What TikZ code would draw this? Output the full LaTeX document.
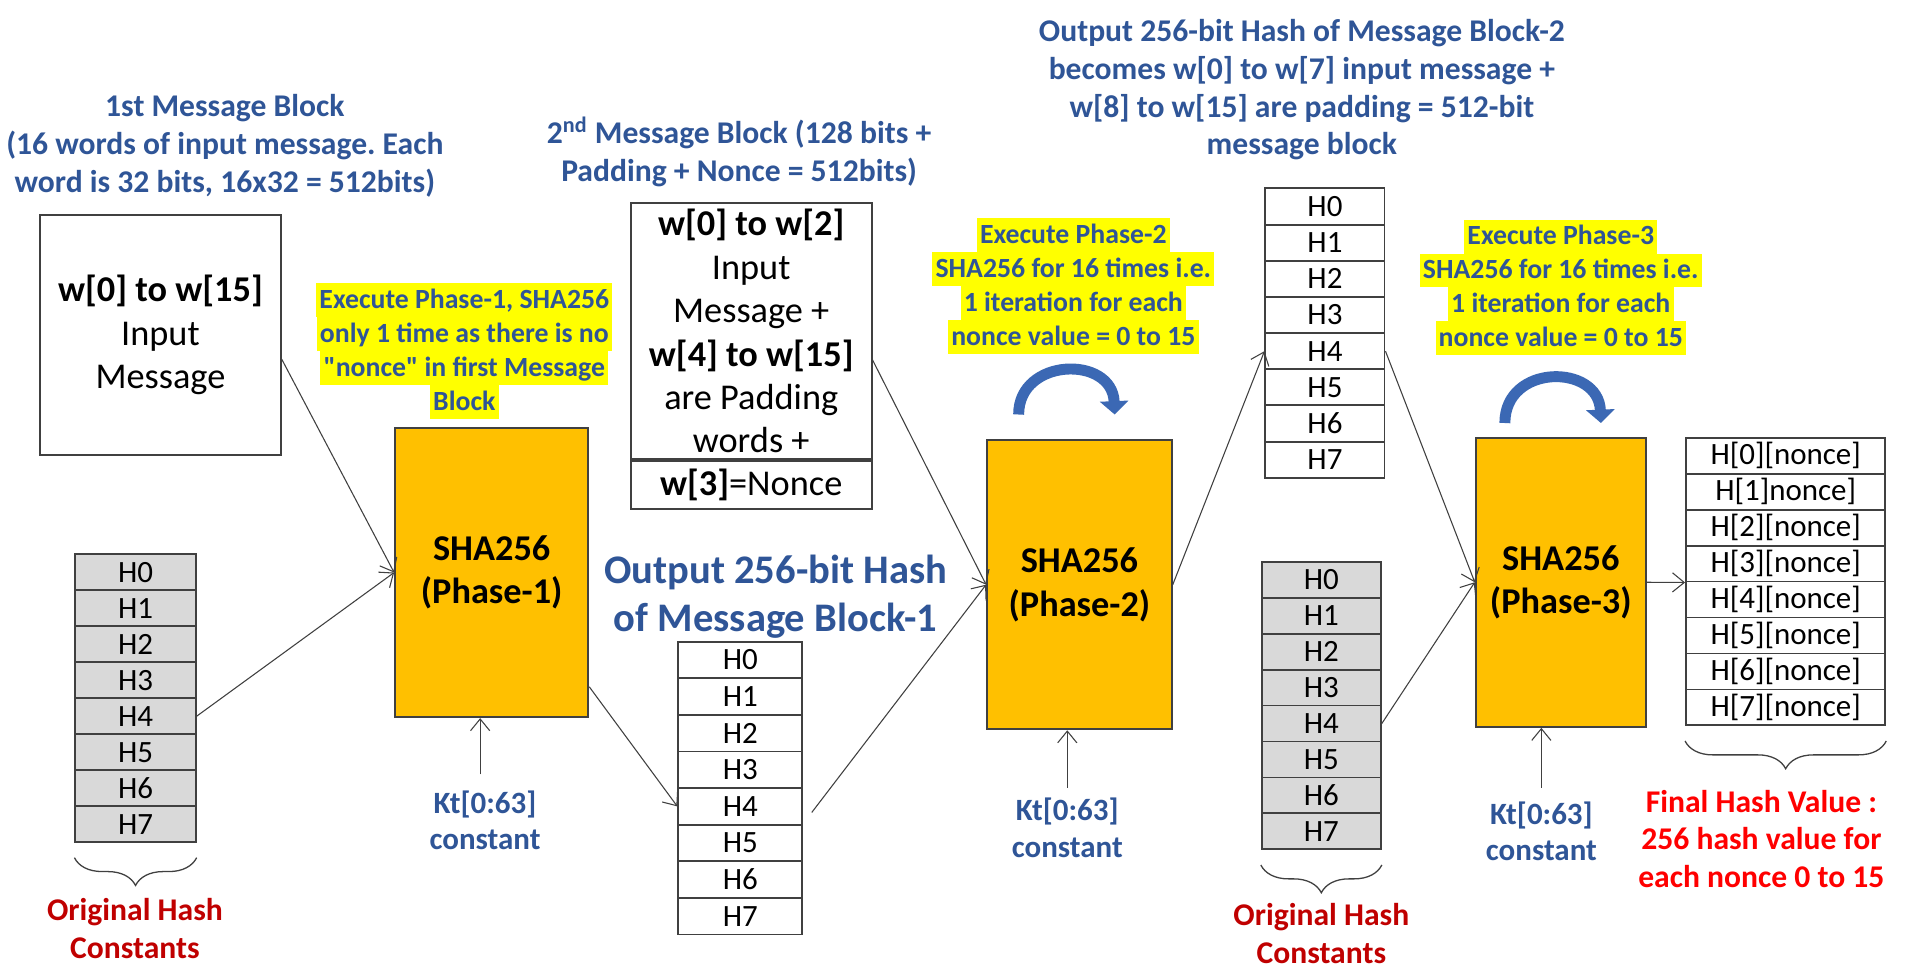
\documentclass[tikz,border=0pt]{standalone}
\usepackage{fontspec}
\setmainfont{Carlito}[Ligatures=TeXOff]
\usepackage{xcolor}
\usetikzlibrary{calc}
\usetikzlibrary{positioning,decorations.pathreplacing}
\usetikzlibrary{arrows.meta}

\definecolor{titleblue}{HTML}{2F5597}
\definecolor{hlyellow}{HTML}{FFFF00}
\definecolor{shaorange}{HTML}{FFC000}
\definecolor{cellgray}{HTML}{D9D9D9}
\definecolor{darkred}{HTML}{C00000}
\definecolor{finalred}{HTML}{FF0000}
\definecolor{linegray}{HTML}{404040}
\definecolor{arcblue}{HTML}{3B68B4}

\newcommand{\yhl}[1]{{\setlength{\fboxsep}{0pt}\colorbox{hlyellow}{\rule[-4pt]{0pt}{15.9pt}\hspace{1.5pt}#1\hspace{1.5pt}}}}
\frenchspacing

\begin{document}
\begin{tikzpicture}[x=0.02cm,y=-0.02cm,>={Straight Barb[length=5.5pt,width=9pt]},
 blocktitle/.style={align=center,text=titleblue,font=\fontsize{14.8}{17.6}\selectfont\bfseries},
 note/.style={align=center,text=titleblue,inner sep=0pt,font=\fontsize{13}{15.9}\selectfont\bfseries},
 msgbox/.style={draw=linegray,line width=0.9pt,align=center,inner sep=0pt,minimum width=3.96cm,font=\fontsize{17}{20.3}\selectfont},
 sha/.style={draw=linegray,line width=0.9pt,fill=shaorange,minimum height=4.76cm,align=center,font=\fontsize{17}{20.4}\selectfont\bfseries},
 cell/.style={draw=linegray,line width=0.9pt,inner sep=0pt,font=\fontsize{14.5}{16}\selectfont},
 kt/.style={align=center,text=titleblue,font=\fontsize{14.5}{17}\selectfont\bfseries},
 flow/.style={->,draw=linegray,line width=0.5pt},
 turnarrow/.style={draw=arcblue,line width=0.18cm,-{Triangle[length=0.22cm,width=0.46cm]}},
 curly/.style={draw=linegray,line width=0.6pt,decorate,decoration={brace,mirror,amplitude=13pt,aspect=0.5}},
 ]
 \fill[white] (0,0) rectangle (1568,797);
 \useasboundingbox (0,0) rectangle (1568,797);

 \node[blocktitle] (title1) at (185,120) {1st Message Block\\(16 words of input message. Each\\word is 32 bits, 16x32 = 512bits)};
 \node[msgbox,minimum height=3.94cm] (msg1) at (132,275.5) {\textbf{w[0] to w[15]}\\Input\\Message};
 \node[note] (note1) at (382,288.5) {\yhl{Execute Phase-1, SHA256}\\\yhl{only 1 time as there is no}\\\yhl{"nonce" in first Message}\\\yhl{Block}};
 \node[sha,minimum width=3.18cm] (sha1) at (404.5,471) {SHA256\\(Phase-1)};

 \foreach \i in {0,...,7}
  \node[cell,fill=cellgray,minimum width=1.98cm,minimum height=0.592cm] (ha\i) at (111.5,470.8+29.6*\i) {H\i};
 \draw[curly] ([shift={(0,12)}]ha7.south west) -- ([shift={(0,12)}]ha7.south east);
 \node[blocktitle,text=darkred] (orig1) at (111,764) {Original Hash\\Constants};

 \node[kt] (kt1) at (399,675) {Kt[0:63]\\constant};
 \coordinate (k1) at (395,637);
 \draw[flow] (k1) -- (k1 |- sha1.south);

 \node[blocktitle] (title2) at (608,125) {2\textsuperscript{nd} Message Block (128 bits +\\Padding + Nonce = 512bits)};
 \node[msgbox,minimum height=4.22cm] (msg2) at (618,272.5) {\textbf{w[0] to w[2]}\\Input\\Message +\\\textbf{w[4] to w[15]}\\are Padding\\words +};
 \node[msgbox,minimum height=0.78cm,below=0pt of msg2] (nonce) {\textbf{w[3]}=Nonce};

 \node[blocktitle,font=\fontsize{19}{22.7}\selectfont\bfseries] (out1) at (638,491) {Output 256-bit Hash\\of Message Block-1};
 \foreach \i in {0,...,7}
  \node[cell,minimum width=2.04cm,minimum height=0.602cm] (hb\i) at (609,543+30.1*\i) {H\i};

 \node[note] (note2) at (883,235) {\yhl{Execute Phase-2}\\\yhl{SHA256 for 16 times i.e.}\\\yhl{1 iteration for each}\\\yhl{nonce value = 0 to 15}};
 \draw[turnarrow] (838,341) .. controls (838,294) and (915,292) .. (917,341);
 \node[sha,minimum width=3.04cm] (sha2) at (888,481) {SHA256\\(Phase-2)};
 \node[kt] (kt2) at (878,681) {Kt[0:63]\\constant};
 \coordinate (k2) at (878,648);
 \draw[flow] (k2) -- (k2 |- sha2.south);

 \node[blocktitle] (title3) at (1071,74) {Output 256-bit Hash of Message Block-2\\becomes w[0] to w[7] input message +\\w[8] to w[15] are padding = 512-bit\\message block};
 \foreach \i in {0,...,7}
  \node[cell,minimum width=1.96cm,minimum height=0.595cm] (hc\i) at (1090,169.9+29.75*\i) {H\i};

 \foreach \i in {0,...,7}
  \node[cell,fill=cellgray,minimum width=1.96cm,minimum height=0.592cm] (hd\i) at (1087,476.8+29.6*\i) {H\i};
 \draw[curly] ([shift={(0,12)}]hd7.south west) -- ([shift={(0,12)}]hd7.south east);
 \node[blocktitle,text=darkred] (orig2) at (1087,768) {Original Hash\\Constants};

 \node[note] (note3) at (1284,236.5) {\yhl{Execute Phase-3}\\\yhl{SHA256 for 16 times i.e.}\\\yhl{1 iteration for each}\\\yhl{nonce value = 0 to 15}};
 \draw[turnarrow] (1238,348) .. controls (1238,299) and (1315,299) .. (1317,348);
 \node[sha,minimum width=2.8cm] (sha3) at (1284,479) {SHA256\\(Phase-3)};
 \node[kt] (kt3) at (1268,684) {Kt[0:63]\\constant};
 \coordinate (k3) at (1268,648);
 \draw[flow] (k3) -- (k3 |- sha3.south);

 \foreach \i/\lbl in {0/{H[0][nonce]},1/{H[1]nonce]},2/{H[2][nonce]},3/{H[3][nonce]},4/{H[4][nonce]},5/{H[5][nonce]},6/{H[6][nonce]},7/{H[7][nonce]}}
  \node[cell,minimum width=3.28cm,minimum height=0.592cm] (he\i) at (1469,374.8+29.6*\i) {\lbl};
 \draw[curly] ([shift={(0,12)}]he7.south west) -- ([shift={(0,12)}]he7.south east);
 \node[blocktitle,text=finalred] (final) at (1449,690) {Final Hash Value :\\256 hash value for\\each nonce 0 to 15};

 \draw[flow] ([shift={(0,20)}]msg1.east) -- (sha1.west);
 \draw[flow] (ha4.east) -- (sha1.west);
 \draw[flow] ([shift={(0,94)}]sha1.east) -- (hb4.west);
 \draw[flow] ([shift={(7,5)}]hb4.east) -- (sha2.west);
 \draw[flow] ([shift={(0,23.5)}]msg2.east) -- (sha2.west);
 \draw[flow] (sha2.east) -- (hc4.west);
 \draw[flow] (hc4.east) -- (sha3.west);
 \draw[flow] (hd4.east) -- (sha3.west);
 \draw[flow] (sha3.east) -- (he3.south west);

\end{tikzpicture}
\end{document}
